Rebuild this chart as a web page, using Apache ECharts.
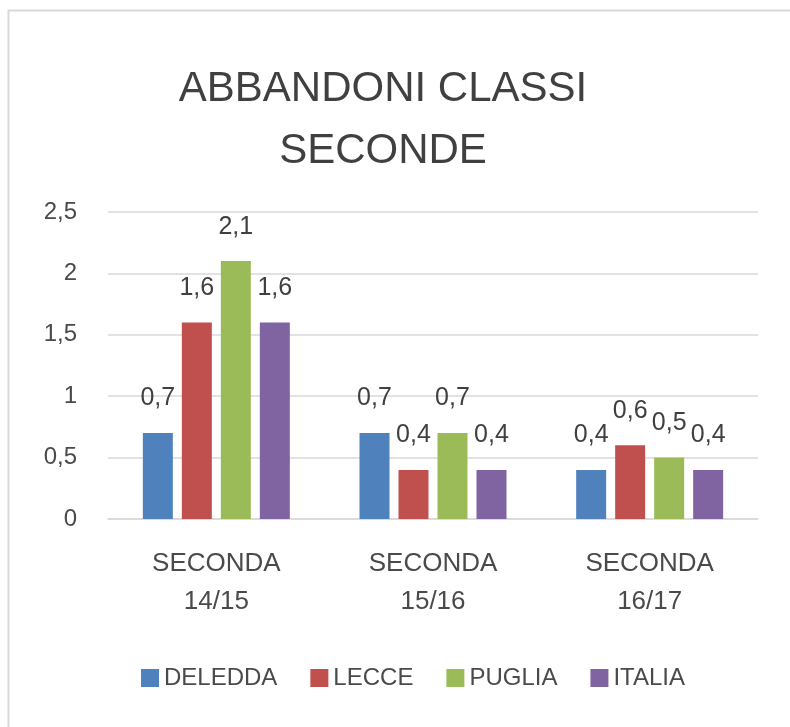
<!DOCTYPE html>
<html>
<head>
<meta charset="utf-8">
<script src="https://cdn.jsdelivr.net/npm/echarts@6/dist/echarts.min.js"></script>
<style>
html,body{margin:0;padding:0;background:#fff;}
#chart{width:790px;height:727px;}
</style>
</head>
<body>
<div id="chart"></div>
<script>
const categories = ['SECONDA\n14/15', 'SECONDA\n15/16', 'SECONDA\n16/17'];
const seriesNames = ['DELEDDA', 'LECCE', 'PUGLIA', 'ITALIA'];
const deledda = [0.7, 0.7, 0.4];
const lecce = [1.6, 0.4, 0.6];
const puglia = [2.1, 0.7, 0.5];
const italia = [1.6, 0.4, 0.4];
const yTicks = [0, 0.5, 1, 1.5, 2, 2.5];
const colors = ['#4F81BD', '#C0504D', '#9BBB59', '#8064A2'];
const values = [deledda, lecce, puglia, italia];

const FONT = "'Liberation Sans', Arial, sans-serif";
const fmt = v => String(v).replace('.', ',');

const chart = echarts.init(document.getElementById('chart'), null, {renderer: 'canvas'});
chart.setOption({
  animation: false,
  backgroundColor: '#ffffff',
  color: colors,
  graphic: [{
    type: 'rect',
    shape: {x: 8.5, y: 10.5, width: 900, height: 900},
    style: {fill: 'none', stroke: '#d9d9d9', lineWidth: 2},
    silent: true, z: -1
  }],
  title: {
    text: 'ABBANDONI CLASSI\nSECONDE',
    left: 378,
    top: 53,
    textAlign: 'center',
    textStyle: {fontFamily: FONT, fontSize: 42, fontWeight: 'normal', color: '#404040', lineHeight: 62}
  },
  legend: {
    data: seriesNames,
    left: 136,
    top: 661,
    itemWidth: 18,
    itemHeight: 18,
    itemGap: 33,
    icon: 'rect',
    textStyle: {fontFamily: FONT, fontSize: 24, color: '#4a4a4a', lineHeight: 24}
  },
  grid: {left: 108, right: 32, top: 212, bottom: 208, containLabel: false},
  xAxis: {
    type: 'category',
    data: categories,
    axisLine: {show: true, lineStyle: {color: '#d9d9d9', width: 1.5}},
    axisTick: {show: false},
    axisLabel: {fontFamily: FONT, fontSize: 26, color: '#4a4a4a', lineHeight: 38, margin: 26, interval: 0}
  },
  yAxis: {
    type: 'value',
    min: yTicks[0],
    max: yTicks[yTicks.length - 1],
    interval: 0.5,
    axisLine: {show: false},
    axisTick: {show: false},
    splitLine: {lineStyle: {color: '#d9d9d9', width: 1.5}},
    axisLabel: {fontFamily: FONT, fontSize: 24, color: '#4a4a4a', margin: 31, formatter: v => fmt(v)}
  },
  series: seriesNames.map((name, i) => ({
    name: name,
    type: 'bar',
    data: values[i],
    barWidth: 30,
    barGap: '30%',
    itemStyle: {color: colors[i]},
    label: {
      show: true,
      position: 'top',
      distance: 22,
      fontFamily: FONT,
      fontSize: 25,
      lineHeight: 25,
      color: '#404040',
      formatter: p => fmt(p.value)
    }
  }))
});
</script>
</body>
</html>
